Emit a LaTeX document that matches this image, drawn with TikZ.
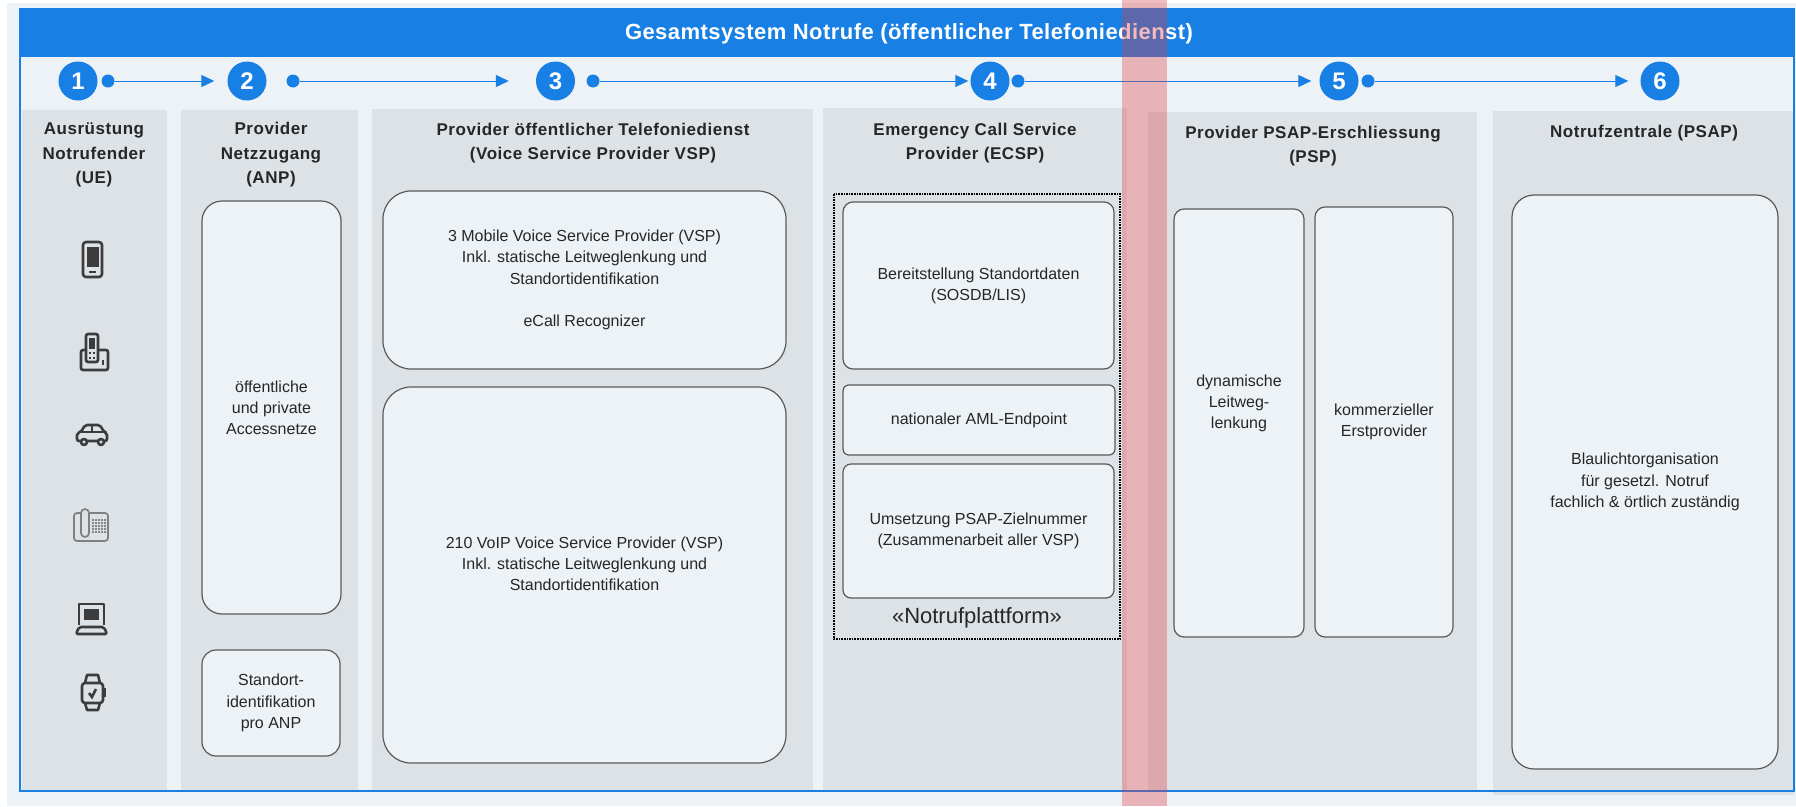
\documentclass[tikz,border=0pt]{standalone}
\usepackage{fontspec}
\setmainfont{Liberation Sans}
\usetikzlibrary{arrows.meta}
\definecolor{pagebg}{HTML}{EDF2F6}
\definecolor{panelgray}{HTML}{DDE2E6}
\definecolor{headblue}{HTML}{1880E4}
\definecolor{bandred}{RGB}{222,60,69}
\definecolor{icongray}{HTML}{3C3C3C}
\tikzset{
    panel/.style={fill=panelgray, draw=none},
    coltitle/.style={font=\fontsize{17}{24.5}\selectfont\bfseries\addfontfeatures{LetterSpace=3.2}, align=center, text=black!85},
    stepnum/.style={circle, fill=headblue, text=white, minimum size=39, inner sep=0, font=\fontsize{24}{24}\selectfont\bfseries},
    stepdot/.style={circle, fill=headblue, minimum size=13, inner sep=0},
    flowline/.style={draw=headblue, line width=1, -{Triangle[length=13,width=12]}},
    procbox/.style={draw=black!65, fill=pagebg, line width=1.2, align=center, inner sep=0, text=black!85,
        font=\fontsize{16}{21.2}\selectfont},
    iconline/.style={draw=icongray, line width=2.6, line join=round},
    iconfill/.style={fill=icongray, draw=none},
}
\begin{document}
\begin{tikzpicture}[x=1pt, y=-1pt]
    \useasboundingbox (0,0) rectangle (1796,806);
    \fill[pagebg] (7,3) rectangle (1796,806);

    \fill[panel] (22,110) rectangle (167,791);
    \fill[panel] (181,110) rectangle (358,791);
    \fill[panel] (372,109) rectangle (813,791);
    \fill[panel] (823,108) rectangle (1127,791);
    \fill[panel] (1148,112) rectangle (1477,791);
    \fill[panel] (1493,111) rectangle (1794,795);

    \draw[headblue, line width=2] (20,9) rectangle (1794,791);
    \fill[headblue] (20,9) rectangle (1794,57);
    \node[text=white, font=\fontsize{22}{24}\selectfont\bfseries\addfontfeatures{LetterSpace=2}] (header) at (909,34)
        {Gesamtsystem Notrufe (öffentlicher Telefoniedienst)};

    \node[stepnum] (num1) at (78,81) {1};
    \node[stepnum] (num2) at (247,81) {2};
    \node[stepnum] (num3) at (555.5,81) {3};
    \node[stepnum] (num4) at (990,81) {4};
    \node[stepnum] (num5) at (1339,81) {5};
    \node[stepnum] (num6) at (1660,81) {6};
    \node[stepdot] (dot1) at (108,81) {};
    \node[stepdot] (dot2) at (293,81) {};
    \node[stepdot] (dot3) at (593,81) {};
    \node[stepdot] (dot4) at (1018,81) {};
    \node[stepdot] (dot5) at (1368,81) {};
    \draw[flowline, shorten >=13] (dot1) -- (num2);
    \draw[flowline, shorten >=27] (dot2) -- (num3);
    \draw[flowline, shorten >=2] (dot3) -- (num4);
    \draw[flowline, shorten >=8] (dot4) -- (num5);
    \draw[flowline, shorten >=12] (dot5) -- (num6);

    \node[coltitle] (title1) at (94,155) {Ausrüstung\\Notrufender\\(UE)};
    \node[coltitle] (title2) at (271,155) {Provider\\Netzzugang\\(ANP)};
    \node[coltitle] (title3) at (593,143) {Provider öffentlicher Telefoniedienst\\(Voice Service Provider VSP)};
    \node[coltitle] (title4) at (975,143) {Emergency Call Service\\Provider (ECSP)};
    \node[coltitle] (title5) at (1313,146) {Provider PSAP-Erschliessung\\(PSP)};
    \node[coltitle] (title6) at (1644,133) {Notrufzentrale (PSAP)};

    \node[procbox, rounded corners=20, minimum width=139, minimum height=413] (access) at (271.5,407.5)
        {öffentliche\\und private\\Accessnetze};
    \node[procbox, rounded corners=14, minimum width=138, minimum height=106] (locate) at (271,703)
        {Standort-\\identifikation\\pro ANP};
    \node[procbox, rounded corners=28, minimum width=403, minimum height=178] (mobile) at (584.5,280)
        {3 Mobile Voice Service Provider (VSP)\\Inkl. statische Leitweglenkung und\\Standortidentifikation\\[21.2pt]eCall Recognizer};
    \node[procbox, rounded corners=28, minimum width=403, minimum height=376] (voip) at (584.5,575)
        {210 VoIP Voice Service Provider (VSP)\\Inkl. statische Leitweglenkung und\\Standortidentifikation\\[1pt]\mbox{}};

    \draw[line width=1.6, densely dotted] (834,194) rectangle (1120,639);
    \node[procbox, rounded corners=10, minimum width=271, minimum height=167] (sosdb) at (978.5,285.5)
        {Bereitstellung Standortdaten\\(SOSDB/LIS)};
    \node[procbox, rounded corners=6, minimum width=272, minimum height=70] (aml) at (979,420)
        {nationaler AML-Endpoint};
    \node[procbox, rounded corners=8, minimum width=271, minimum height=134] (target) at (978.5,531)
        {Umsetzung PSAP-Zielnummer\\(Zusammenarbeit aller VSP)};
    \node[font=\fontsize{22}{24}\selectfont, text=black!85] (platform) at (977,618) {«Notrufplattform»};

    \node[procbox, rounded corners=10, minimum width=130, minimum height=428] (routing) at (1239,423)
        {dynamische\\Leitweg-\\lenkung\\\mbox{}\\\mbox{}};
    \node[procbox, rounded corners=10, minimum width=138, minimum height=430] (carrier) at (1384,422)
        {kommerzieller\\Erstprovider};
    \node[procbox, rounded corners=22, minimum width=266, minimum height=574] (psap) at (1645,482)
        {Blaulichtorganisation\\für gesetzl. Notruf\\fachlich \& örtlich zuständig};

    \draw[iconline, rounded corners=3] (83,242) rectangle (102,277);
    \fill[iconfill] (86.5,247) rectangle (98.5,267);
    \fill[iconfill] (89,270.5) rectangle (96,272.5);

    \draw[iconline, rounded corners=2] (85,350) -- (81,350) -- (81,370) -- (108,370) -- (108,350) -- (99,350);
    \draw[iconline, rounded corners=2, fill=panelgray] (86,334) rectangle (98,362);
    \fill[iconfill] (89,338) rectangle (95,349);
    \fill[iconfill] (89,352) rectangle (91,354);
    \fill[iconfill] (93,352) rectangle (95,354);
    \fill[iconfill] (89,356.5) rectangle (91,358.5);
    \fill[iconfill] (93,356.5) rectangle (95,358.5);
    \fill[iconfill] (102,360) rectangle (104,365);

    \draw[iconline, rounded corners=2] (81,432) -- (85,425) -- (100,425) -- (104,432) -- (107,433) -- (107,441) -- (77,441) -- (77,433) -- cycle;
    \draw[iconline] (81,432) -- (104,432);
    \draw[iconline] (92,425) -- (92,432);
    \draw[iconline, fill=panelgray] (84,442) circle (3);
    \draw[iconline, fill=panelgray] (101,442) circle (3);

    \draw[rounded corners=3, gray, line width=1.7] (81,513) -- (74,513) -- (74,541) -- (108,541) -- (108,513) -- (90,513);
    \draw[rounded corners=4, gray, line width=1.7] (81,509) rectangle (89,537);
    \foreach \col in {93,96,99,102,105}
        \foreach \row in {520,523,526,529,532}
            \fill[black!60] (\col,\row) circle (1.1);

    \draw[iconline] (79,625) -- (79,604) -- (104,604) -- (104,625);
    \fill[iconfill] (84,609) rectangle (99,620);
    \draw[iconline, rounded corners=2] (79,627) -- (104,627) -- (107,634) -- (76,634) -- cycle;

    \draw[iconline, rounded corners=3] (82,683) rectangle (103,703);
    \draw[iconline] (85,683) -- (87,675) -- (98,675) -- (100,683);
    \draw[iconline] (85,703) -- (87,710) -- (98,710) -- (100,703);
    \fill[iconfill] (104,688) rectangle (106,697);
    \draw[icongray, line width=2.6] (89,693) -- (92,697) -- (96,689);

    \fill[bandred, fill opacity=0.35] (1122,0) rectangle (1167,806);
\end{tikzpicture}
\end{document}
